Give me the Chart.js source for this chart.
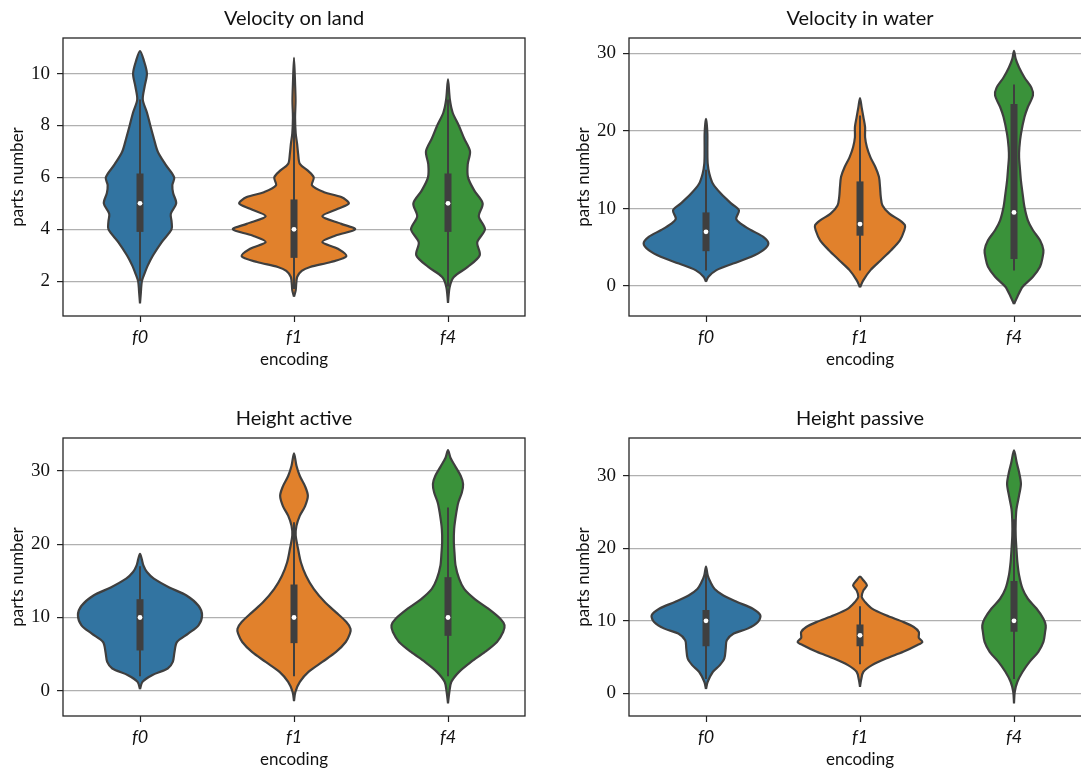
<!DOCTYPE html>
<html>
<head>
<meta charset="utf-8">
<script src="https://cdn.jsdelivr.net/npm/chart.js@4.4.0/dist/chart.umd.min.js"></script>
<style>
  body { margin: 0; width: 1081px; height: 771px; overflow: hidden; background: #fff; position: relative; }
  canvas { position: absolute; }
</style>
</head>
<body>
<canvas id="land" width="540" height="371" style="left:0;top:0"></canvas>
<canvas id="water" width="556" height="371" style="left:540px;top:0"></canvas>
<canvas id="active" width="540" height="371" style="left:0;top:400px"></canvas>
<canvas id="passive" width="556" height="371" style="left:540px;top:400px"></canvas>
<script>
// categories + colours
const encodings = ['f0', 'f1', 'f4']
const colors = ['#3274a1', '#e1812c', '#3a923a']

// violin outlines: y values and half widths (in category units)
const landF0Y = [1.14, 1.6, 2.0, 2.3, 2.6, 3.0, 3.5, 4.0, 4.3, 4.6, 5.0, 5.4, 5.7, 6.0, 6.5, 7.0, 7.5, 8.0, 8.5, 9.0, 9.5, 10.0, 10.5, 10.87]
const landF0W = [0, 0.006, 0.012, 0.03, 0.05, 0.085, 0.14, 0.205, 0.205, 0.2, 0.235, 0.215, 0.21, 0.222, 0.165, 0.115, 0.09, 0.067, 0.045, 0.018, 0.03, 0.045, 0.025, 0]
const landF1Y = [1.40, 1.65, 2.16, 2.4, 2.55, 2.74, 2.96, 3.25, 3.51, 3.76, 4.0, 4.21, 4.5, 4.79, 5.0, 5.24, 5.43, 5.69, 6.0, 6.26, 6.52, 6.9, 7.3, 7.7, 8.3, 8.95, 9.6, 10.61]
const landF1W = [0, 0.011, 0.02, 0.05, 0.105, 0.24, 0.34, 0.285, 0.184, 0.27, 0.397, 0.307, 0.184, 0.285, 0.356, 0.307, 0.195, 0.117, 0.128, 0.09, 0.038, 0.027, 0.02, 0.011, 0.007, 0.01, 0.007, 0]
const landF4Y = [1.17, 1.78, 2.16, 2.55, 3.0, 3.5, 4.0, 4.5, 5.0, 5.5, 6.0, 6.5, 7.0, 7.5, 8.0, 8.5, 9.0, 9.78]
const landF4W = [0, 0.011, 0.038, 0.128, 0.206, 0.19, 0.24, 0.2, 0.225, 0.17, 0.13, 0.128, 0.143, 0.105, 0.07, 0.03, 0.012, 0]

const waterF0Y = [0.56, 1.2, 2.06, 2.9, 3.77, 4.63, 5.49, 6.34, 7.2, 8.06, 8.7, 9.77, 10.6, 11.9, 13.2, 14.5, 15.8, 17.5, 19.6, 20.9, 21.56]
const waterF0W = [0, 0.016, 0.068, 0.176, 0.294, 0.372, 0.405, 0.372, 0.294, 0.225, 0.196, 0.214, 0.167, 0.098, 0.045, 0.022, 0.011, 0.009, 0.009, 0.005, 0]
const waterF1Y = [-0.17, 0.77, 2.06, 3.34, 4.63, 5.9, 7.2, 7.84, 8.49, 9.34, 10.4, 11.5, 12.8, 14.1, 15.3, 16.6, 17.9, 19.2, 20.5, 21.8, 23.0, 24.26]
const waterF1W = [0, 0.022, 0.068, 0.135, 0.202, 0.259, 0.288, 0.292, 0.259, 0.191, 0.146, 0.135, 0.13, 0.123, 0.101, 0.068, 0.045, 0.033, 0.033, 0.022, 0.011, 0]
const waterF4Y = [-2.31, -1.37, -0.09, 1.2, 2.49, 3.56, 4.63, 5.9, 7.2, 8.49, 10.2, 11.9, 13.6, 15.3, 16.6, 17.9, 19.6, 21.8, 23.1, 24.6, 25.6, 26.9, 28.2, 29.3, 30.35]
const waterF4W = [0, 0.022, 0.056, 0.123, 0.169, 0.184, 0.191, 0.169, 0.123, 0.09, 0.068, 0.056, 0.045, 0.038, 0.033, 0.035, 0.045, 0.068, 0.09, 0.123, 0.113, 0.068, 0.033, 0.011, 0]

const activeF0Y = [0.23, 1.22, 2.13, 3.04, 3.94, 5.3, 6.66, 7.8, 8.93, 10.3, 11.6, 13.0, 14.1, 15.3, 16.2, 17.1, 18.0, 18.67]
const activeF0W = [0, 0.016, 0.078, 0.18, 0.213, 0.224, 0.24, 0.313, 0.38, 0.403, 0.38, 0.302, 0.19, 0.09, 0.045, 0.022, 0.011, 0]
const activeF1Y = [-1.4, -0.14, 1.22, 2.58, 3.94, 5.3, 6.66, 7.8, 8.47, 9.38, 10.7, 12.1, 13.9, 15.7, 17.5, 19.3, 21.2, 22.5, 23.9, 25.2, 26.6, 27.9, 29.3, 30.7, 32.4]
const activeF1W = [0, 0.009, 0.038, 0.094, 0.184, 0.273, 0.336, 0.363, 0.367, 0.34, 0.273, 0.2, 0.128, 0.078, 0.045, 0.027, 0.011, 0.016, 0.038, 0.072, 0.09, 0.072, 0.038, 0.016, 0]
const activeF4Y = [-1.72, -0.14, 1.22, 2.58, 3.94, 5.3, 6.66, 8.02, 8.93, 9.83, 11.2, 12.55, 13.9, 15.3, 17.1, 18.9, 20.25, 22.1, 24.3, 25.7, 27.05, 28.2, 29.3, 30.7, 31.8, 32.85]
const activeF4W = [0, 0.009, 0.022, 0.072, 0.15, 0.24, 0.318, 0.358, 0.367, 0.34, 0.262, 0.172, 0.105, 0.072, 0.049, 0.042, 0.038, 0.04, 0.054, 0.067, 0.09, 0.098, 0.083, 0.045, 0.016, 0]

const passiveF0Y = [0.6, 1.6, 2.98, 3.9, 4.81, 6.18, 7.33, 8.25, 8.93, 9.85, 10.76, 11.68, 12.6, 13.5, 14.4, 15.35, 16.3, 17.5]
const passiveF0W = [0, 0.011, 0.045, 0.09, 0.119, 0.128, 0.135, 0.18, 0.27, 0.337, 0.353, 0.304, 0.202, 0.113, 0.056, 0.029, 0.011, 0]
const passiveF1Y = [0.92, 1.83, 2.98, 3.9, 4.81, 5.73, 6.64, 7.1, 7.65, 8.47, 9.16, 9.85, 10.76, 11.68, 12.6, 13.3, 14.2, 14.9, 15.6, 16.1]
const passiveF1W = [0, 0.007, 0.022, 0.078, 0.169, 0.281, 0.37, 0.405, 0.382, 0.382, 0.349, 0.281, 0.169, 0.078, 0.033, 0.011, 0.022, 0.045, 0.022, 0]
const passiveF4Y = [-1.37, 0.23, 1.6, 2.98, 4.35, 5.73, 7.1, 8.47, 9.39, 10.3, 11.7, 13.05, 14.4, 16.3, 18.1, 19.9, 21.8, 23.6, 25.4, 27.3, 28.9, 30.5, 31.8, 33.5]
const passiveF4W = [0, 0.005, 0.022, 0.056, 0.101, 0.158, 0.191, 0.202, 0.206, 0.191, 0.146, 0.09, 0.056, 0.033, 0.022, 0.016, 0.011, 0.011, 0.016, 0.033, 0.045, 0.033, 0.018, 0]

// inner box: quartiles, median, whisker ends per category
const landQ1 = [3.9, 2.9, 3.9], landQ3 = [6.15, 5.15, 6.15], landMed = [5, 4, 5]
const landLo = [2, 1.7, 1.8], landHi = [9, 8.5, 9]
const waterQ1 = [4.5, 6.5, 3.5], waterQ3 = [9.5, 13.5, 23.5], waterMed = [7, 8, 9.5]
const waterLo = [2, 2, 2], waterHi = [15, 22, 26]
const activeQ1 = [5.5, 6.5, 7.5], activeQ3 = [12.5, 14.5, 15.5], activeMed = [10, 10, 10]
const activeLo = [2, 2, 2], activeHi = [17, 23, 25]
const passiveQ1 = [6.5, 6.5, 8.5], passiveQ3 = [11.5, 9.5, 15.5], passiveMed = [10, 8, 10]
const passiveLo = [2, 4, 2], passiveHi = [16.5, 12, 24]

// axis ticks
const landTicks = [2, 4, 6, 8, 10]
const waterTicks = [0, 10, 20, 30]
const activeTicks = [0, 10, 20, 30]
const passiveTicks = [0, 10, 20, 30]

const EDGE = '#3f3f3f'

const framePlugin = {
  id: 'frame',
  afterDraw(chart, args, opts) {
    const { ctx, chartArea: a } = chart
    ctx.save()
    ctx.strokeStyle = '#262626'
    ctx.lineWidth = 1.3
    ctx.strokeRect(a.left, a.top, a.right - a.left, a.bottom - a.top)
    ctx.fillStyle = '#111'
    ctx.font = '20px Lato, sans-serif'
    ctx.textAlign = 'center'
    ctx.textBaseline = 'middle'
    ctx.fillText(opts.text, (a.left + a.right) / 2, 19)
    ctx.restore()
  }
}

function violinPoints(i, ys, ws) {
  const pts = ys.map((y, k) => ({ x: i + ws[k], y }))
  for (let k = ys.length - 2; k >= 0; k--) pts.push({ x: i - ws[k], y: ys[k] })
  return pts
}

function makeChart(id, title, violins, q1, q3, med, lo, hi, yMin, yMax, ticks, padLeft, padRight) {
  const datasets = []
  // medians on top
  datasets.push({
    data: med.map((m, i) => ({ x: i, y: m })),
    showLine: false, pointRadius: 2.4, pointBackgroundColor: '#fff', pointBorderWidth: 0, order: 0
  })
  encodings.forEach((_, i) => {
    datasets.push({
      data: [{ x: i, y: q1[i] }, { x: i, y: q3[i] }],
      showLine: true, borderColor: EDGE, borderWidth: 7, borderCapStyle: 'butt', pointRadius: 0, order: 1
    })
    datasets.push({
      data: [{ x: i, y: lo[i] }, { x: i, y: hi[i] }],
      showLine: true, borderColor: EDGE, borderWidth: 2, pointRadius: 0, order: 2
    })
    datasets.push({
      data: violinPoints(i, violins[i][0], violins[i][1]),
      showLine: true, fill: 'shape', backgroundColor: colors[i], borderColor: EDGE,
      borderWidth: 2.2, pointRadius: 0, tension: 0.3, order: 3
    })
  })

  return new Chart(document.getElementById(id), {
    type: 'scatter',
    data: { datasets },
    plugins: [framePlugin],
    options: {
      responsive: false,
      animation: false,
      devicePixelRatio: 1,
      layout: { padding: { left: padLeft, top: 38, right: padRight, bottom: 0 } },
      plugins: {
        legend: { display: false },
        tooltip: { enabled: false },
        frame: { text: title }
      },
      scales: {
        x: {
          type: 'linear', min: -0.5, max: 2.5,
          afterBuildTicks: s => { s.ticks = [0, 1, 2].map(v => ({ value: v })) },
          afterFit: s => { s.height = 55 },
          ticks: {
            callback: v => encodings[v], padding: 4, color: '#111',
            font: { family: 'Lato, sans-serif', size: 18, style: 'italic' }
          },
          grid: { drawOnChartArea: false, drawTicks: true, tickLength: 6, tickColor: '#222', tickWidth: 1.2 },
          border: { display: false },
          title: { display: true, text: 'encoding', color: '#111', font: { family: 'Lato, sans-serif', size: 17 }, padding: { top: 0, bottom: 1 } }
        },
        y: {
          min: yMin, max: yMax,
          afterBuildTicks: s => { s.ticks = ticks.map(v => ({ value: v })) },
          afterFit: s => { s.width = 63 },
          ticks: { padding: 7, color: '#111', font: { family: '"Liberation Serif", serif', size: 19 } },
          grid: { color: '#b0b0b0', lineWidth: 1.2, tickLength: 6, tickColor: '#222', tickWidth: 1.2 },
          border: { display: false },
          title: { display: true, text: 'parts number', color: '#111', font: { family: 'Lato, sans-serif', size: 17 }, padding: { top: 7, bottom: 0 } }
        }
      }
    }
  })
}

makeChart('land', 'Velocity on land',
  [[landF0Y, landF0W], [landF1Y, landF1W], [landF4Y, landF4W]],
  landQ1, landQ3, landMed, landLo, landHi, 0.66, 11.37, landTicks, 0, 15)
makeChart('water', 'Velocity in water',
  [[waterF0Y, waterF0W], [waterF1Y, waterF1W], [waterF4Y, waterF4W]],
  waterQ1, waterQ3, waterMed, waterLo, waterHi, -3.86, 32.0, waterTicks, 26, 5)
makeChart('active', 'Height active',
  [[activeF0Y, activeF0W], [activeF1Y, activeF1W], [activeF4Y, activeF4W]],
  activeQ1, activeQ3, activeMed, activeLo, activeHi, -3.44, 34.49, activeTicks, 0, 15)
makeChart('passive', 'Height passive',
  [[passiveF0Y, passiveF0W], [passiveF1Y, passiveF1W], [passiveF4Y, passiveF4W]],
  passiveQ1, passiveQ3, passiveMed, passiveLo, passiveHi, -3.12, 35.22, passiveTicks, 26, 5)
</script>
</body>
</html>
